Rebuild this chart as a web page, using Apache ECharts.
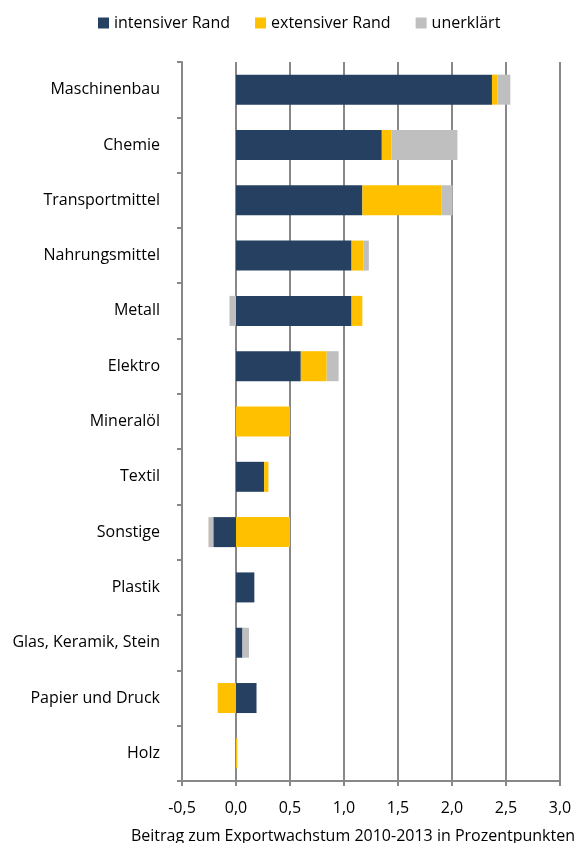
<!DOCTYPE html>
<html>
<head>
<meta charset="utf-8">
<script src="https://cdn.jsdelivr.net/npm/echarts@6/dist/echarts.min.js"></script>
<style>
html,body{margin:0;padding:0;background:#fff;}
#chart{width:578px;height:843px;}
</style>
</head>
<body>
<div id="chart"></div>
<script>
var categories = ["Maschinenbau","Chemie","Transportmittel","Nahrungsmittel","Metall","Elektro","Mineralöl","Textil","Sonstige","Plastik","Glas, Keramik, Stein","Papier und Druck","Holz"];
var intensiverRand = [2.37, 1.35, 1.17, 1.07, 1.07, 0.60, 0, 0.26, -0.21, 0.17, 0.06, 0.19, 0];
var extensiverRand = [0.05, 0.09, 0.735, 0.11, 0.10, 0.24, 0.50, 0.04, 0.50, 0, 0, -0.17, 0.012];
var unerklaert = [0.12, 0.61, 0.10, 0.05, -0.06, 0.11, 0, 0, -0.045, 0, 0.06, 0, 0];
var seriesNames = ["intensiver Rand","extensiver Rand","unerklärt"];
var colors = ["#264061","#FFC000","#BFBFBF"];

var font = "'Open Sans', sans-serif";
var chart = echarts.init(document.getElementById('chart'));
function mk(name, data, color){
  return {name:name, type:'bar', stack:'total', data:data, barWidth:30,
    itemStyle:{color:color}, yAxisIndex:0, xAxisIndex:0};
}
chart.setOption({
  animation:false,
  color:colors,
  textStyle:{fontFamily:font},
  legend:{top:10, left:93, itemWidth:11, itemHeight:11, itemGap:25, icon:'rect',
    textStyle:{fontSize:16, color:'#000', fontFamily:font},
    data:seriesNames},
  grid:{left:182, right:18, top:62, bottom:62, containLabel:false, outerBoundsMode:'none'},
  xAxis:{type:'value', min:-0.5, max:3, interval:0.5,
    name:'Beitrag zum Exportwachstum 2010-2013 in Prozentpunkten',
    nameLocation:'middle', nameGap:47,
    nameTextStyle:{fontSize:16, color:'#000', fontFamily:font, padding:[0,36,0,0]},
    axisLine:{show:true, onZero:false, lineStyle:{color:'#888', width:2}},
    axisTick:{show:true, length:5, lineStyle:{color:'#888', width:2}},
    axisLabel:{fontSize:16, color:'#000', margin:19, fontFamily:font,
      formatter:function(v){return v.toFixed(1).replace('.',',');}},
    splitLine:{show:true, lineStyle:{color:'#888', width:2}}},
  yAxis:[
    {type:'category', data:categories, inverse:true,
      axisLine:{show:false}, axisTick:{show:false},
      axisLabel:{fontSize:16, color:'#000', margin:22, fontFamily:font}},
    {type:'category', data:categories, inverse:true, position:'left',
      axisLine:{show:true, onZero:true, lineStyle:{color:'#888', width:2}},
      axisTick:{show:true, length:5, lineStyle:{color:'#888', width:2}},
      axisLabel:{show:false}, splitLine:{show:false}}
  ],
  series:[
    mk(seriesNames[0], intensiverRand, colors[0]),
    mk(seriesNames[1], extensiverRand, colors[1]),
    mk(seriesNames[2], unerklaert, colors[2])
  ]
});
</script>
</body>
</html>
